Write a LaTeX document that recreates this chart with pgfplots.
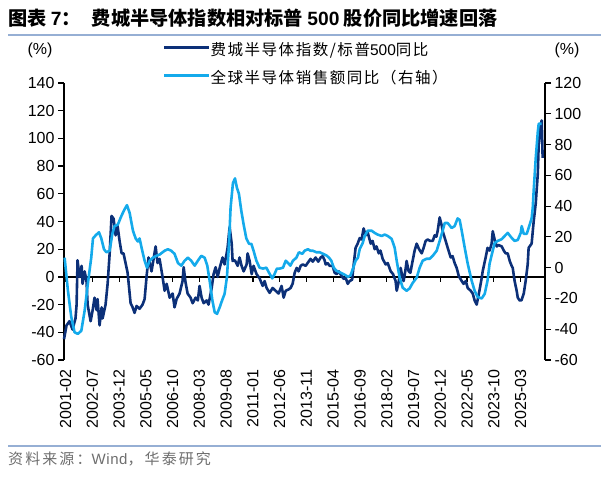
\documentclass[border=0pt]{standalone}
\usepackage{fontspec}
\setmainfont{Liberation Sans}
\newfontfamily\lat{Liberation Sans}
\newfontfamily\cjk{Noto Sans CJK SC}
\newfontfamily\cjkleg[LetterSpace=10]{Noto Sans CJK SC}
\newfontfamily\cjksrc[LetterSpace=14]{Noto Sans CJK SC}
\newfontfamily\latsrc[LetterSpace=4]{Liberation Sans}
\usepackage{pgfplots}
\pgfplotsset{compat=1.18}
\usepackage{pgfplotstable}

\definecolor{soxnavy}{RGB}{12,48,120}
\definecolor{semiblue}{RGB}{20,170,235}
\definecolor{rulecol}{RGB}{150,175,212}
\definecolor{srcgray}{RGB}{110,110,110}

% SOX / S&P 500 relative performance, YoY (%), left axis; x = months since 2001-01
\pgfplotstableread{
m v
0 -45
1.6 -35
3.5 -32
5.4 -38
7.3 -30
8.0 -20
8.6 12
9.9 0
11.2 8
11.8 -5
13.1 4
14.3 -3
15.0 -20
16.9 -32
18.2 -24
19.4 -15
20.7 -24
21.3 -16
22.6 -35
23.9 -22
24.5 -30
26.4 -20
27.7 -5
29.0 17
30.2 44
31.5 42
32.8 30
34.0 37
35.3 26
36.6 17
37.8 17
39.1 10
40.4 3
42.3 -19
43.6 -22
44.8 -26
46.1 -21
48.0 -23
49.9 -20
51.2 -16
52.5 1
53.7 14
55.6 4
56.9 13
58.2 22
59.4 10
60.7 13
62.6 0
63.9 -10
65.2 -5
67.1 -15
69.0 -12
70.2 -22
71.5 -16
73.4 -12
75.3 -3
76.0 7
77.2 -4
78.5 -12
80.4 -15
81.7 -19
83.6 -15
85.0 -17
86.1 -6.5
87.4 -15
88.7 -19
90.6 -17
91.8 -20
93.8 -8
95.0 2
96.3 7
97.6 0
99.0 7
100.7 14
102.0 9
103.3 17
103.9 21
105.2 36
106.5 24
107.1 11.5
108.5 12
110.3 8
111.5 14
112.8 8
114.1 4
116.0 9
116.6 17
117.9 11.5
119.2 2
120.4 8
122.3 2
124.2 -1
126.2 -6.5
127.4 -3
128.7 -8
130.6 -11.5
132.5 -8
134.4 -10
136.3 -12
138.2 -6.5
139.5 -15
140.8 -10
142.7 -9
143.9 -8
145.2 -5
146.5 3
147.8 6.5
149.0 4
150.3 8
151.6 9
153.5 8
154.7 10
156.6 13
158.0 11
159.8 14
161.5 11
163.0 14
164.3 15
165.5 12
166.2 9
167.4 10
168.7 8
170.6 8
171.9 3
173.2 2
174.5 4
176.3 0.7
177.6 -1.4
179.0 -1
180.2 -5
181.4 -3
183.0 -2
184.0 9
185.2 21
186.5 24
187.8 28
189.0 27
190.3 35
191.6 30
192.9 32
194.8 24
196.0 26
197.3 20
198.5 22
199.9 17
201.0 19
202.4 13
204.3 9
205.6 10
207.5 4
209.0 2
210.6 -3
211.3 -10
212.5 -4
213.8 6.5
215.1 -1
215.7 -3
217.0 6
217.6 11.5
218.9 4
220.0 3
221.4 11.5
222.7 19
224.0 24
225.5 20
227.2 17
228.4 21
229.7 26
231.0 27
232.5 26
234.2 26
235.4 30
236.5 29
237.3 33
238.6 43
239.9 37
240.5 33
242.4 26
243.7 21
245.6 14
246.8 15
248.1 10
249.4 6.5
250.7 0.7
252.6 -3
253.8 -5
255.2 -3
256.4 -8
258.3 -10
259.6 -12
260.8 -17
262.1 -20
263.0 -15
264.0 -9
265.3 -0.7
265.9 4
267.8 14
269.0 21
270.3 19
271.6 24
272.3 33
273.5 27
274.8 22
276.0 23
278.0 22
279.3 19
280.5 17
281.8 17
283.1 11.5
284.3 8
285.0 6.5
286.2 -3
287.5 -10
288.2 -15
289.4 -17
290.5 -17
292.0 -12
293.2 -3
294.5 9
295.1 21
297.0 24
298.3 40
299.6 53
300.9 74
301.5 96
302.8 110
303.4 113
304.0 86
}\soxtable

% Global semiconductor sales, YoY (%), right axis
\pgfplotstableread{
m v
0.4 6.5
2.5 -15
4.6 -32
6.7 -42
8.8 -43
11.0 -41
13.1 -28
15.2 -10
17.3 6.5
18.4 19
20.1 21
22.2 23
23.7 19
25.4 12
26.9 10
29.0 11
30.7 22
32.1 27
34.2 28
36.4 33.5
38.5 38
40.0 40.6
41.7 35.5
43.8 24
45.5 19
46.9 17
48.0 19
49.7 11
51.2 4.5
52.7 0
54.4 4.5
56.5 6.5
58.6 7.7
60.7 8.5
63.9 11
66.0 12
68.1 11
70.2 9
72.4 3
74.5 1.3
76.6 4.5
78.7 6.5
80.8 4.5
83.0 1.3
85.0 4.5
87.2 7.7
89.3 6.5
91.0 1.3
92.5 -8.4
94.2 -21
95.7 -29
97.2 -30
98.8 -26
100.5 -21
102.0 -17
103.5 -6
104.8 15.5
105.8 39
107.3 55
108.6 58
109.8 52
111.1 48
112.6 37
114.1 28
115.8 19
117.5 15.5
119.0 15.5
120.4 11
122.2 4.5
124.2 0
126.4 -0.6
128.5 0
130.6 -4
132.3 -7
133.8 -4
135.2 -0.6
137.0 -0.6
139.1 0
140.8 4.5
142.3 3
143.8 1.3
145.4 4.5
147.6 6.5
149.2 10
151.4 9
152.8 11
155.0 12
156.5 11
158.1 11
160.3 10
162.4 10
164.5 9
166.6 8
168.3 6.5
169.8 4.5
171.3 0
173.0 -2
175.1 -3
177.2 -4
178.9 -5
180.4 -6
182.0 -5
183.5 -0.6
185.2 4.5
186.7 6.5
187.8 12
189.7 16
191.0 20.6
192.9 24
195.4 24
197.3 22.6
199.2 21.5
201.8 20.6
203.7 21.5
205.6 20.6
208.1 18.7
210.0 13
211.3 4.5
213.2 -6.5
215.1 -13
217.6 -15
219.5 -13.5
221.4 -10
224.0 -6.5
225.9 0
227.8 4.5
230.3 5.8
232.3 5.8
234.2 7.7
236.7 11
238.6 17.4
240.5 24
241.8 29
243.7 29
246.2 25.8
248.1 27
250.0 32
251.3 31
252.6 24
254.5 13
256.4 2.6
258.9 -8.4
260.8 -15
262.7 -19
265.3 -20
267.2 -17
269.0 -8.4
270.3 2.6
272.3 11
273.5 16
275.5 17.4
278.0 18.5
279.9 20.6
281.8 22.6
284.3 19.4
286.2 17.4
288.2 18
290.1 22.6
290.7 27
292.0 22
293.9 22
295.1 25.8
297.0 32
297.7 38.7
298.3 50
299.6 71
300.9 88
301.5 93.5
303.4 93.5
}\semitable

\newcommand{\tickfont}{\lat\fontsize{16}{18}\selectfont}

\pgfplotsset{
  common/.style={
    at={(64pt,117pt)}, anchor=south west,
    scale only axis, width=481pt, height=277pt,
    xmin=0, xmax=305.5,
    tick align=outside, major tick length=6pt,
    every tick/.style={black, line width=1.2pt},
    yticklabel style={font=\tickfont},
    clip=false,
  },
}

\begin{document}
\begin{tikzpicture}[x=1pt,y=1pt]
\useasboundingbox (0,0) rectangle (607,477);

% heading and rules
\node[anchor=west, inner sep=0pt] at (8,459)
  {\cjk\fontsize{19.2}{21}\selectfont\bfseries 图表 {\lat\bfseries 7}：\hspace{11pt}费城半导体指数相对标普 {\lat\bfseries 500} 股价同比增速回落};
\draw[rulecol, line width=1.5pt] (8,442) -- (601,442);
\draw[rulecol, line width=1.2pt] (8,31) -- (601,31);
\node[anchor=west, inner sep=0pt, text=srcgray] at (8,18)
  {\cjksrc\fontsize{15}{17}\selectfont 资料来源：{\latsrc Wind}，华泰研究};

% unit labels
\node[font=\tickfont] at (40,427) {(\%)};
\node[font=\tickfont] at (567,427) {(\%)};

\begin{axis}[common,
  ymin=-60, ymax=140,
  axis y line*=left, axis x line*=bottom,
  x axis line style={draw=none},
  y axis line style={line width=1.4pt},
  xtick={1,18,...,290},
  xticklabels={2001-02,2002-07,2003-12,2005-05,2006-10,2008-03,2009-08,2011-01,2012-06,2013-11,2015-04,2016-09,2018-02,2019-07,2020-12,2022-05,2023-10,2025-03},
  xtick style={draw=none},
  xticklabel style={rotate=90, anchor=east, font=\tickfont},
  ytick={-60,-40,...,140},
  yticklabels={-60,-40,-20,0,20,40,60,80,100,120,140},
]
\draw[black, line width=1.4pt] (axis cs:0,0) -- (axis cs:305.5,0);
\pgfplotsinvokeforeach{1,18,...,290}{
  \draw[black, line width=1.2pt] (axis cs:#1,0) -- ++(0pt,-5pt);
}
\addplot[soxnavy, line width=2.6pt, line join=round] table[x=m, y=v] {\soxtable};
\end{axis}

\begin{axis}[common,
  ymin=-60, ymax=120,
  axis y line*=right, axis x line=none,
  y axis line style={line width=1.4pt},
  ytick={-60,-40,...,120},
  yticklabels={-60,-40,-20,0,20,40,60,80,100,120},
  legend style={at={(0.199,1.146)}, anchor=north west, draw=none, fill=none,
    font=\cjkleg\fontsize{15.5}{17}\selectfont,
    nodes={inner sep=0pt, text height=11pt, text depth=4pt},
    row sep=13pt,
    /tikz/every even column/.append style={column sep=8pt}},
  legend cell align=left,
  legend image code/.code={\draw[#1] (0pt,5pt) -- (45pt,5pt);},
]
\addlegendimage{soxnavy, line width=2.6pt}
\addlegendentry{费城半导体指数/标普{\lat 500}同比}
\addplot[semiblue, line width=2.6pt, line join=round] table[x=m, y=v] {\semitable};
\addlegendentry{全球半导体销售额同比（右轴）}
\end{axis}
\end{tikzpicture}
\end{document}
